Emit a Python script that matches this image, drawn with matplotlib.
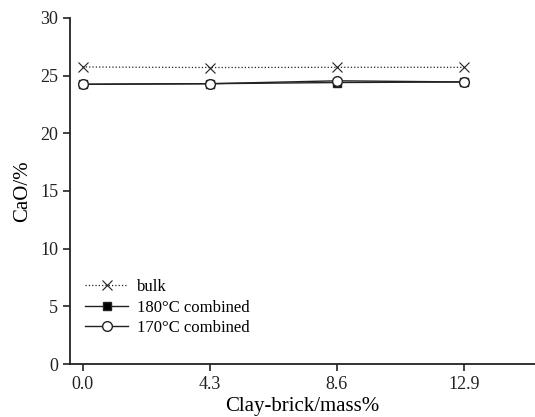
import matplotlib.pyplot as plt

plt.rcParams['font.family'] = ['Liberation Serif', 'DejaVu Serif']

clay_brick = [0.0, 4.3, 8.6, 12.9]
bulk = [25.75, 25.7, 25.72, 25.72]
combined_180 = [24.25, 24.3, 24.4, 24.45]
combined_170 = [24.25, 24.3, 24.55, 24.45]

fig = plt.figure(figsize=(5.35, 4.17), dpi=100)
ax = fig.add_axes([0.131, 0.127, 0.869, 0.83])

ax.plot(clay_brick, bulk, color='#222222', linestyle=':', linewidth=0.9,
        marker='x', markersize=7, markeredgewidth=0.8, label='bulk')
ax.plot(clay_brick, combined_180, color='#222222', linestyle='-', linewidth=1.0,
        marker='s', markersize=6, markerfacecolor='black', label='180\u00b0C combined')
ax.plot(clay_brick, combined_170, color='#222222', linestyle='-', linewidth=1.0,
        marker='o', markersize=7, markerfacecolor='white', label='170\u00b0C combined')

ax.set_xlim(-0.42, 15.3)
ax.set_ylim(0, 30)
ax.set_xticks(clay_brick)
ax.set_xticklabels(['0.0', '4.3', '8.6', '12.9'])
ax.set_yticks(range(0, 31, 5))

for side in ['top', 'right']:
    ax.spines[side].set_visible(False)
for side in ['left', 'bottom']:
    ax.spines[side].set_linewidth(1.3)
    ax.spines[side].set_color('#222222')
ax.tick_params(direction='out', length=5, width=1.2, labelsize=13, colors='#222222')

ax.set_xlabel('Clay-brick/mass%', fontsize=15, labelpad=3)
ax.set_ylabel('CaO/%', fontsize=15, labelpad=6)

ax.legend(loc='lower left', bbox_to_anchor=(0.0, 0.037), frameon=False,
          fontsize=12, handlelength=2.6, labelspacing=0.28, handletextpad=0.5)

fig.savefig('out.png', dpi=100)
